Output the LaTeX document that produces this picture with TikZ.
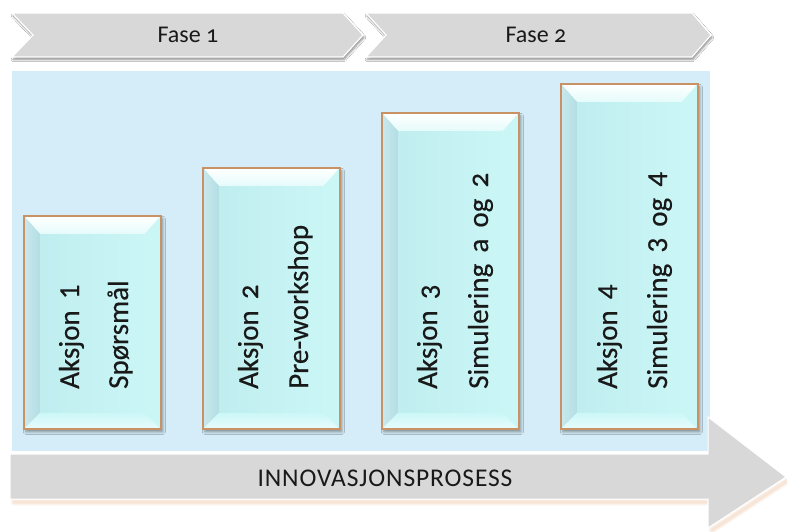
\documentclass[tikz,border=0pt]{standalone}
\usepackage{fontspec}
\setmainfont{Carlito}
\newfontfamily\boxfont{Carlito}[WordSpace=1.7, FakeBold=0.4]
\newfontfamily\boxfontos{Carlito}[WordSpace=1.7, FakeBold=0.4, Numbers=OldStyle]
\newfontfamily\bandfont{Carlito}[LetterSpace=3.5]
\usetikzlibrary{shadows.blur}
\newcommand\osnum[1]{{\addfontfeatures{Numbers=OldStyle}#1}}
\newcommand\boxos[1]{{\boxfontos #1}}

\definecolor{panelblue}{RGB}{213,237,248}
\definecolor{bandgray}{RGB}{216,216,216}
\definecolor{boxcyan}{RGB}{204,247,247}
\definecolor{boxteal}{RGB}{190,236,238}
\definecolor{bevelside}{RGB}{178,222,228}
\definecolor{boxedge}{RGB}{200,146,100}
\definecolor{inktext}{RGB}{25,25,25}
\definecolor{warmglow}{RGB}{236,190,150}

\tikzset{
  chevron/.style={fill=bandgray, draw=white, line width=1.2pt,
    blur shadow={shadow xshift=1pt, shadow yshift=-2.5pt, shadow blur steps=6,
      shadow opacity=45, shadow blur radius=2pt}},
  bigarrow/.style={fill=bandgray, draw=white, line width=1pt},
  bandlabel/.style={text=inktext, font=\fontsize{24}{28}\selectfont, inner sep=0},
  boxlabel/.style={text=inktext, font=\boxfont\fontsize{29}{34}\selectfont, inner sep=0,
    rotate=90, anchor=base west},
  actionbox/.style={minimum width=137pt, inner sep=0, anchor=north west,
    draw=boxedge, line width=1.8pt,
    left color=boxteal, right color=boxcyan,
    blur shadow={shadow xshift=2pt, shadow yshift=-3pt, shadow blur steps=6,
      shadow opacity=40, shadow blur radius=2.5pt},
    path picture={
      \coordinate (pnw) at (path picture bounding box.north west);
      \coordinate (pne) at (path picture bounding box.north east);
      \coordinate (psw) at (path picture bounding box.south west);
      \coordinate (pse) at (path picture bounding box.south east);
      % bevelled facets of the raised button
      \shade[top color=white, bottom color=boxcyan!50!white]
        (pnw) -- (pne) -- ([shift={(-16pt,-18pt)}]pne) -- ([shift={(16pt,-18pt)}]pnw) -- cycle;
      \shade[left color=bevelside!70!white, right color=bevelside]
        (pnw) -- ([shift={(16pt,-18pt)}]pnw) -- ([shift={(16pt,16pt)}]psw) -- (psw) -- cycle;
      \shade[bottom color=boxcyan!45!white, top color=boxcyan]
        (psw) -- ([shift={(16pt,16pt)}]psw) -- ([shift={(-16pt,16pt)}]pse) -- (pse) -- cycle;
      \fill[boxcyan!92!boxteal]
        (pne) -- ([shift={(-16pt,-18pt)}]pne) -- ([shift={(-16pt,16pt)}]pse) -- (pse) -- cycle;
    }},
}

\begin{document}
\begin{tikzpicture}[x=1pt, y=-1pt]
\useasboundingbox (0,0) rectangle (787,531);
\fill[white] (0,0) rectangle (787,531);

% phase chevrons
\path[chevron] (12,13) -- (343,13) -- (363,35) -- (343,57) -- (12,57) -- (33,35) -- cycle;
\path[chevron] (366,13) -- (692,13) -- (711,35) -- (692,57) -- (366,57) -- (386,35) -- cycle;
\node[bandlabel] (fase1) at (188,35) {Fase \osnum{1}};
\node[bandlabel] (fase2) at (536,35) {Fase \osnum{2}};

% background panel
\fill[panelblue] (12,71) rectangle (710,451);

% warm soft glow under the process arrow
\foreach \w/\o in {7/0.10, 5/0.14, 3/0.18} {
  \draw[warmglow, line width=\w pt, opacity=\o, line cap=round, line join=round]
    (14,502) -- (706,502) (712,530) -- (787,481);
}

% process arrow
\path[bigarrow] (10,454) -- (708,454) -- (708,417) -- (786,477) -- (708,528) -- (708,499) -- (10,499) -- cycle;
\node[text=inktext, font=\bandfont\fontsize{25.5}{30}\selectfont, inner sep=0] (prosess) at (385,478) {INNOVASJONSPROSESS};

% action buttons
\node[actionbox, minimum height=213pt] (a1) at (23,215) {};
\node[actionbox, minimum height=261pt] (a2) at (202,167) {};
\node[actionbox, minimum height=316pt] (a3) at (381,112) {};
\node[actionbox, minimum height=345pt] (a4) at (560,83) {};

\node[boxlabel] (a1t) at (79,389) {Aksjon 1};
\node[boxlabel] (a1s) at (128,389) {Spørsmål};
\node[boxlabel] (a2t) at (258,389) {Aksjon \boxos{2}};
\node[boxlabel] (a2s) at (308,389) {Pre-workshop};
\node[boxlabel] (a3t) at (437,389) {Aksjon \boxos{3}};
\node[boxlabel] (a3s) at (488,389) {Simulering a og \boxos{2}};
\node[boxlabel] (a4t) at (617,389) {Aksjon 4};
\node[boxlabel] (a4s) at (667,389) {Simulering 3 og 4};
\end{tikzpicture}
\end{document}
